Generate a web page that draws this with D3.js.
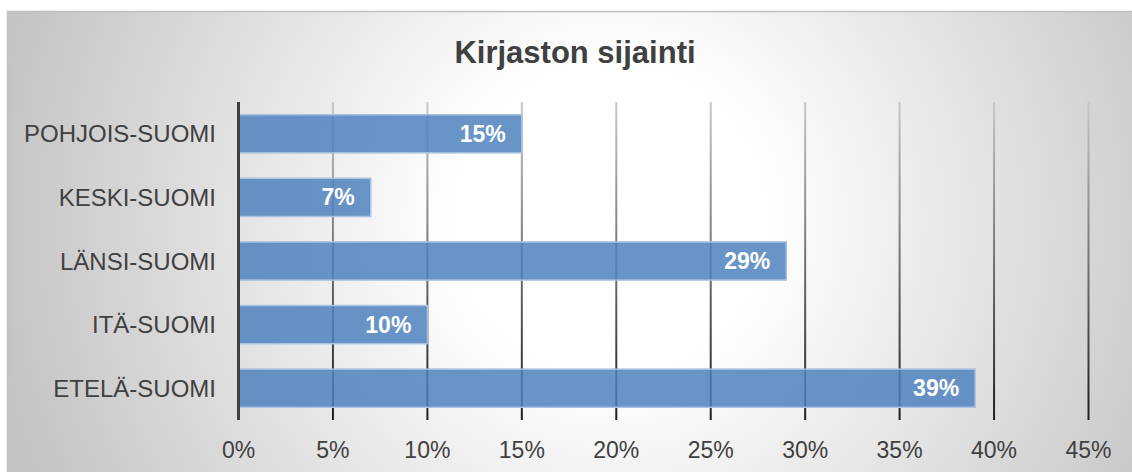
<!DOCTYPE html>
<html>
<head>
<meta charset="utf-8">
<script src="https://cdn.jsdelivr.net/npm/d3@7"></script>
<style>
  body { margin: 0; background: #fff; }
  #canvas { width: 1132px; height: 472px; overflow: hidden; }
  text { font-family: "Liberation Sans", Arial, sans-serif; }
</style>
</head>
<body>
<div id="canvas"></div>
<script>
var title = "Kirjaston sijainti"
var categories = ["POHJOIS-SUOMI", "KESKI-SUOMI", "LÄNSI-SUOMI", "ITÄ-SUOMI", "ETELÄ-SUOMI"]
var values = [15, 7, 29, 10, 39]
var ticks = [0, 5, 10, 15, 20, 25, 30, 35, 40, 45]

var width = 1132
var height = 472
var plotLeft = 238.5, plotRight = 1088.5, plotTop = 102, plotBottom = 420

var svg = d3.select("#canvas")
    .append("svg")
    .attr("width", width)
    .attr("height", height)

var defs = svg.append("defs")

// background radial gradient
var bg = defs.append("radialGradient")
    .attr("id", "bg")
    .attr("gradientUnits", "userSpaceOnUse")
    .attr("cx", 610).attr("cy", 220).attr("r", 620)
bg.append("stop").attr("offset", 0).attr("stop-color", "#ffffff")
bg.append("stop").attr("offset", 0.25).attr("stop-color", "#ffffff")
bg.append("stop").attr("offset", 1).attr("stop-color", "#c4c4c4")

// gridline gradient, light at top and dark at bottom
var gl = defs.append("linearGradient")
    .attr("id", "grid")
    .attr("gradientUnits", "userSpaceOnUse")
    .attr("x1", 0).attr("y1", plotTop).attr("x2", 0).attr("y2", plotBottom)
gl.append("stop").attr("offset", 0).attr("stop-color", "#c8c8c8")
gl.append("stop").attr("offset", 1).attr("stop-color", "#1e1e1e")

svg.append("rect")
    .attr("x", 7.5).attr("y", 11.5)
    .attr("width", width).attr("height", height)
    .attr("fill", "url(#bg)")
    .attr("stroke", "#c0c0c0")
    .attr("stroke-width", 1.5)

svg.append("text")
    .attr("x", 575).attr("y", 63)
    .attr("text-anchor", "middle")
    .attr("font-size", 31)
    .attr("font-weight", "bold")
    .attr("fill", "#404040")
    .text(title)

var xScale = d3.scaleLinear().domain([0, 45]).range([plotLeft, plotRight])
var yScale = d3.scaleBand().domain(categories).range([plotTop, plotBottom])
    .paddingInner(0.4).paddingOuter(0.2)

// gridlines
svg.append("g")
    .selectAll("rect")
    .data(ticks.filter(function (t) { return t > 0 }))
    .enter()
    .append("rect")
    .attr("x", function (d) { return xScale(d) - 1 })
    .attr("y", plotTop)
    .attr("width", 2)
    .attr("height", plotBottom - plotTop)
    .attr("fill", "url(#grid)")

// bars
svg.append("g")
    .selectAll("rect")
    .data(values)
    .enter()
    .append("rect")
    .attr("x", xScale(0))
    .attr("y", function (d, i) { return yScale(categories[i]) })
    .attr("width", function (d) { return xScale(d) - xScale(0) })
    .attr("height", yScale.bandwidth())
    .attr("fill", "#4f81bd")
    .attr("fill-opacity", 0.85)
    .attr("stroke", "#a9c2e2")
    .attr("stroke-width", 1.5)

// value labels
svg.append("g")
    .selectAll("text")
    .data(values)
    .enter()
    .append("text")
    .attr("x", function (d) { return xScale(d) - 16 })
    .attr("y", function (d, i) { return yScale(categories[i]) + yScale.bandwidth() / 2 + 8 })
    .attr("text-anchor", "end")
    .attr("font-size", 23)
    .attr("font-weight", "bold")
    .attr("fill", "#ffffff")
    .text(function (d) { return d + "%" })

// category axis line
svg.append("line")
    .attr("x1", xScale(0)).attr("x2", xScale(0))
    .attr("y1", plotTop).attr("y2", plotBottom)
    .attr("stroke", "#404040")
    .attr("stroke-width", 3)

// category labels
svg.append("g")
    .selectAll("text")
    .data(categories)
    .enter()
    .append("text")
    .attr("x", 216)
    .attr("y", function (d) { return yScale(d) + yScale.bandwidth() / 2 + 8.5 })
    .attr("text-anchor", "end")
    .attr("font-size", 24)
    .attr("fill", "#404040")
    .text(function (d) { return d })

// tick labels
svg.append("g")
    .selectAll("text")
    .data(ticks)
    .enter()
    .append("text")
    .attr("x", function (d) { return xScale(d) })
    .attr("y", 458)
    .attr("text-anchor", "middle")
    .attr("font-size", 23)
    .attr("fill", "#404040")
    .text(function (d) { return d + "%" })
</script>
</body>
</html>
